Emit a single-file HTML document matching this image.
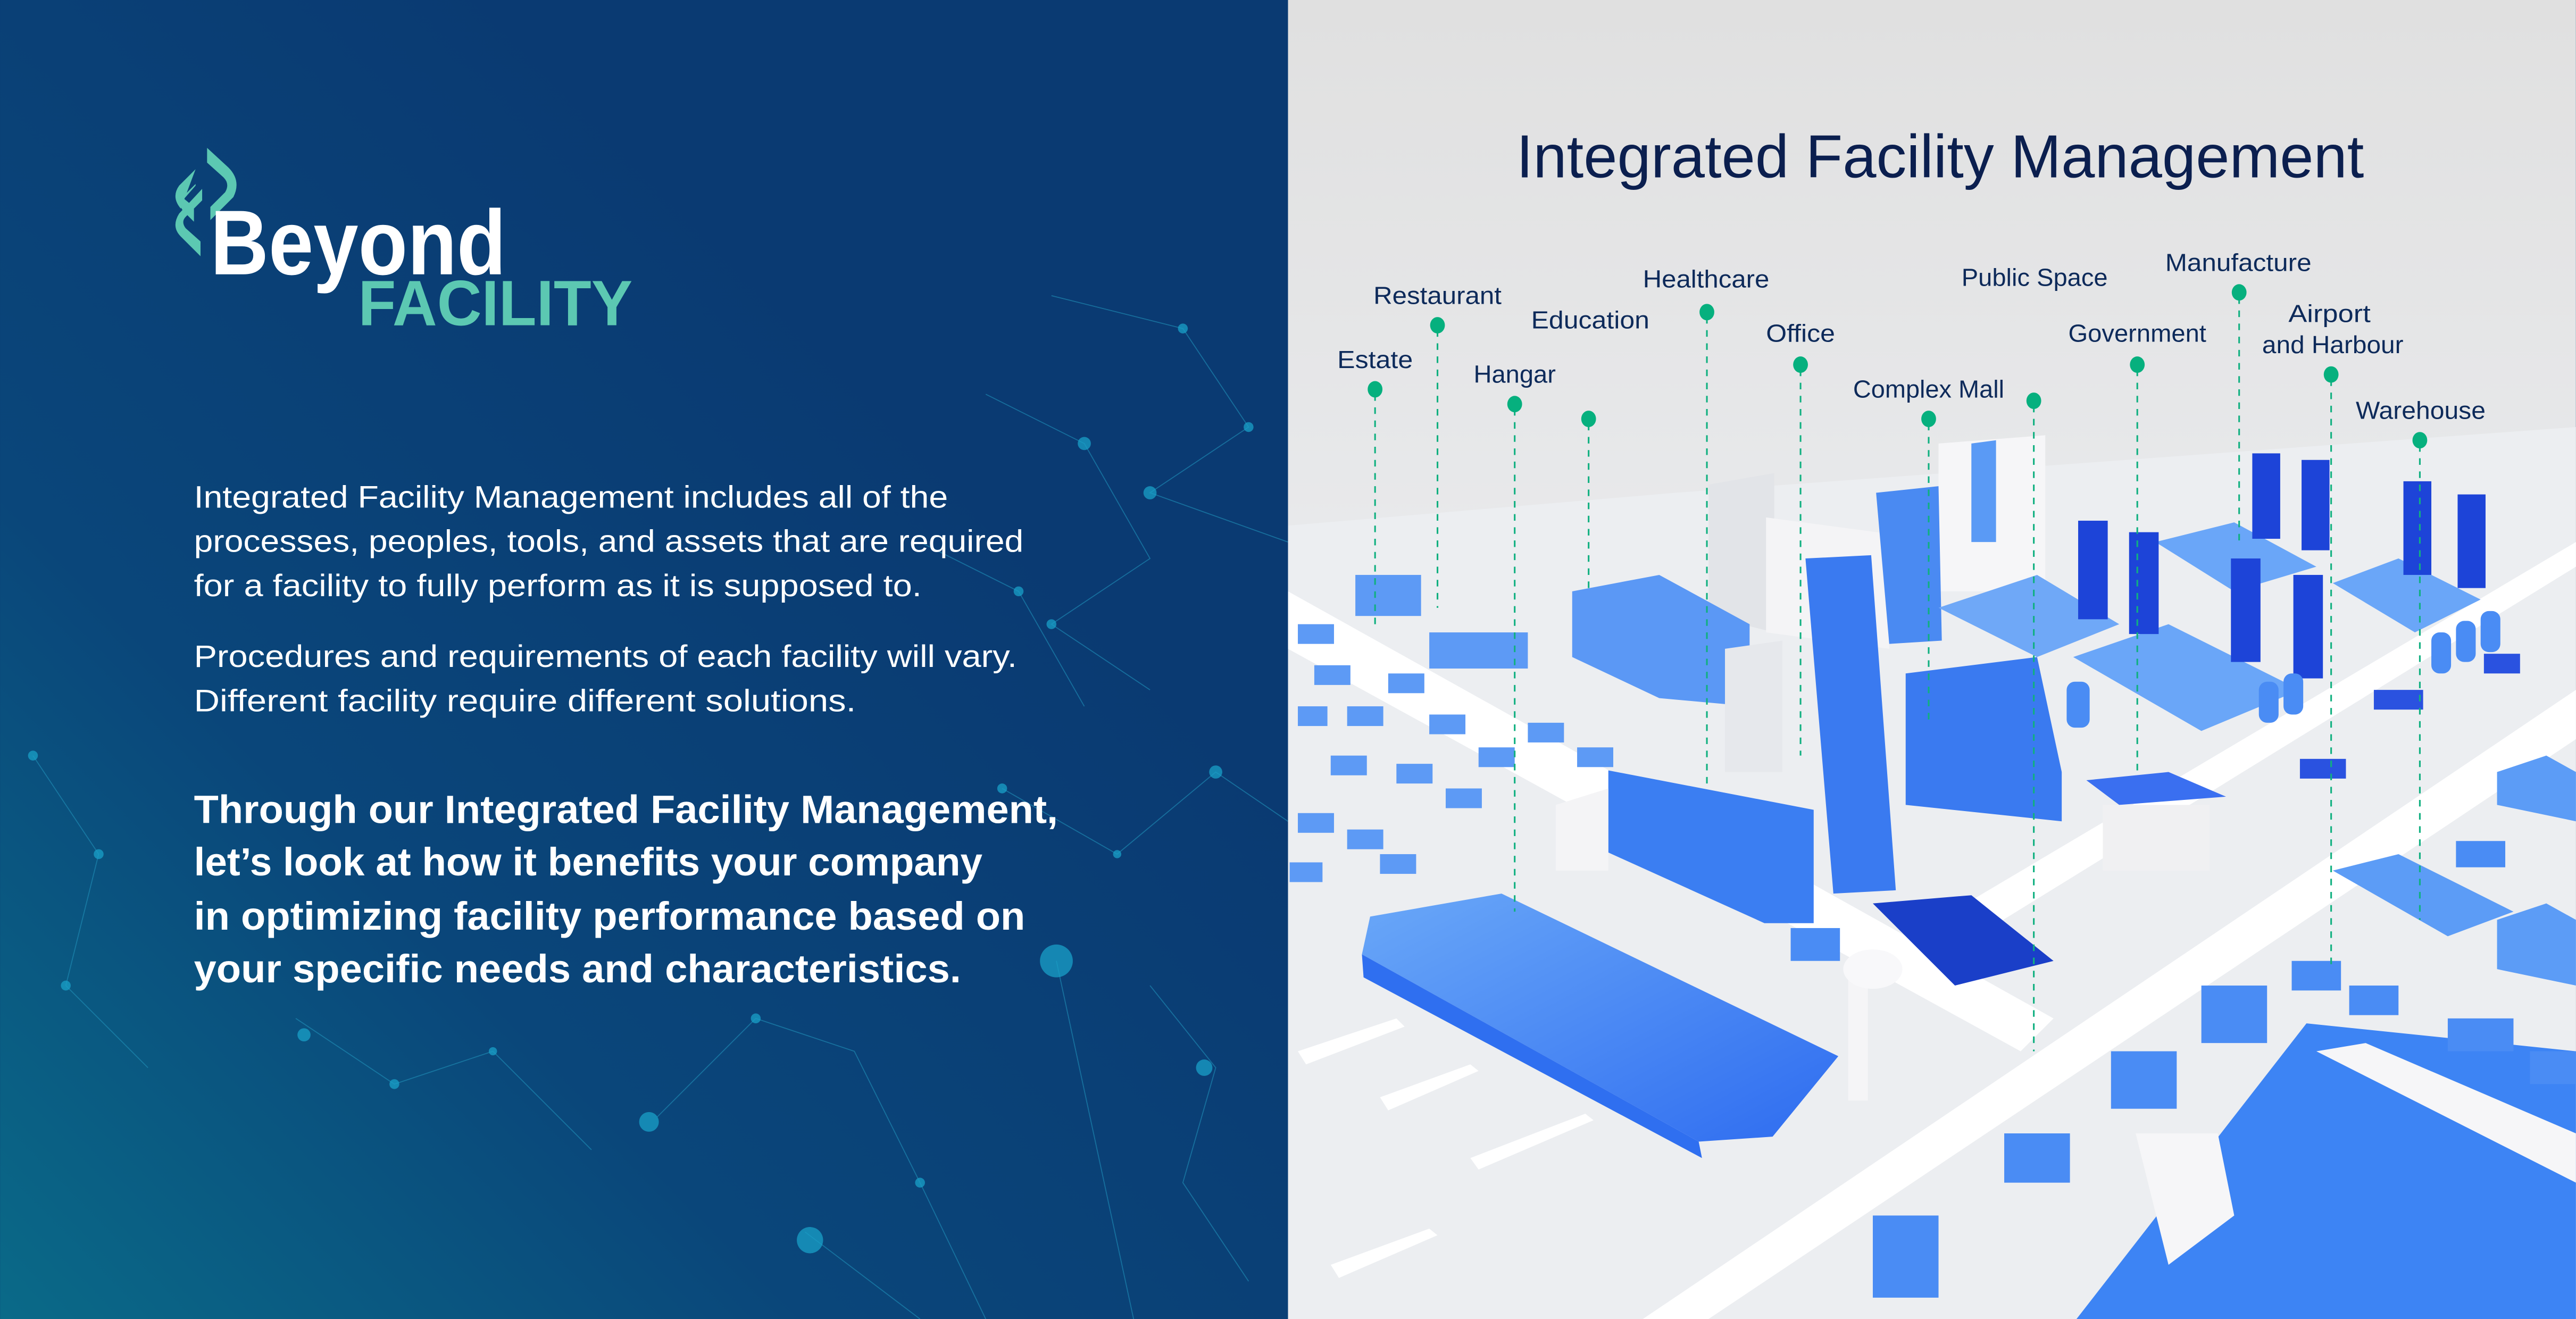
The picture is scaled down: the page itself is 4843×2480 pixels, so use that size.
<!DOCTYPE html>
<html><head><meta charset="utf-8"><style>
html,body{margin:0;padding:0;width:4843px;height:2480px;overflow:hidden;background:#0a3a72}
svg{display:block}
text{font-family:"Liberation Sans",sans-serif}
</style></head><body>
<svg width="4843" height="2480" viewBox="0 0 1568 803" xmlns="http://www.w3.org/2000/svg">
<defs>
<linearGradient id="lg" x1="0" y1="1" x2="0.7" y2="0.3">
<stop offset="0" stop-color="#0a6a88"/><stop offset="0.45" stop-color="#0a467a"/><stop offset="1" stop-color="#0a3a72"/></linearGradient>
<linearGradient id="rg" x1="0" y1="0" x2="0" y2="1">
<stop offset="0" stop-color="#e0e0e0"/><stop offset="0.4" stop-color="#e8e9eb"/><stop offset="1" stop-color="#eef0f3"/></linearGradient>
<linearGradient id="bl" x1="0" y1="0" x2="1" y2="1"><stop offset="0" stop-color="#6aa8f8"/><stop offset="1" stop-color="#2e6cf0"/></linearGradient>
</defs>
<g>
<rect x="0" y="0" width="784" height="803" fill="url(#lg)"/>
<g stroke="#1f8fb8" stroke-width="0.6" opacity="0.6" fill="none">
<polyline points="640,180 720,200 760,260 700,300 784,330"/>
<polyline points="600,240 660,270 700,340 640,380 700,420"/>
<polyline points="643,585 690,803"/>
<polyline points="400,680 460,620 520,640 560,720 600,803"/>
<polyline points="490,750 560,803"/>
<polyline points="610,480 680,520 740,470 784,500"/>
<polyline points="20,460 60,520 40,600 90,650"/>
<polyline points="180,620 240,660 300,640 360,700"/>
<polyline points="700,600 740,650 720,720 760,780"/>
<polyline points="560,330 620,360 660,430"/>
</g>
<g fill="#1aa0c8" opacity="0.75">
<circle cx="643" cy="585" r="10"/><circle cx="493" cy="755" r="8"/><circle cx="395" cy="683" r="6"/>
<circle cx="700" cy="300" r="4"/><circle cx="720" cy="200" r="3"/><circle cx="660" cy="270" r="4"/>
<circle cx="640" cy="380" r="3"/><circle cx="740" cy="470" r="4"/><circle cx="610" cy="480" r="3"/>
<circle cx="733" cy="650" r="5"/><circle cx="560" cy="720" r="3"/><circle cx="460" cy="620" r="3"/>
<circle cx="60" cy="520" r="3"/><circle cx="40" cy="600" r="3"/><circle cx="240" cy="660" r="3"/>
<circle cx="300" cy="640" r="2.5"/><circle cx="760" cy="260" r="3"/><circle cx="680" cy="520" r="2.5"/>
<circle cx="620" cy="360" r="3"/><circle cx="185" cy="630" r="4"/><circle cx="20" cy="460" r="3"/>
</g>
<g>
<g fill="#5cc8b2">
<path d="M126,90 L139,102 Q147,110 142,120 L128,134 L128,126 L137,117 Q140,112 136,108 L126,99 Z"/>
<path d="M119,103 L119,112 L111,120 Q108,125 112,129 L118,135 L118,126 L112,121 L119,113 L119,103 L109,113 Q104,120 110,127 Z"/>
<path d="M109,130 Q104,138 110,144 L122,156 L122,147 L113,139 Q110,135 113,132 L123,122 L123,115 Z"/>
</g>
<text x="128" y="167" font-size="56" font-weight="bold" fill="#ffffff" textLength="180" lengthAdjust="spacingAndGlyphs">Beyond</text>
<text x="218" y="198" font-size="39" font-weight="bold" fill="#5cc8b2" textLength="167" lengthAdjust="spacingAndGlyphs">FACILITY</text>
</g>
<g fill="#ffffff" font-size="19">
<text x="118" y="309" textLength="459" lengthAdjust="spacingAndGlyphs">Integrated Facility Management includes all of the</text>
<text x="118" y="336" textLength="505" lengthAdjust="spacingAndGlyphs">processes, peoples, tools, and assets that are required</text>
<text x="118" y="363" textLength="443" lengthAdjust="spacingAndGlyphs">for a facility to fully perform as it is supposed to.</text>
</g>
<g fill="#ffffff" font-size="19">
<text x="118" y="406" textLength="501" lengthAdjust="spacingAndGlyphs">Procedures and requirements of each facility will vary.</text>
<text x="118" y="433" textLength="403" lengthAdjust="spacingAndGlyphs">Different facility require different solutions.</text>
</g>
<g fill="#ffffff" font-size="24" font-weight="bold">
<text x="118" y="501" textLength="526" lengthAdjust="spacingAndGlyphs">Through our Integrated Facility Management,</text>
<text x="118" y="533" textLength="480" lengthAdjust="spacingAndGlyphs">let’s look at how it benefits your company</text>
<text x="118" y="566" textLength="506" lengthAdjust="spacingAndGlyphs">in optimizing facility performance based on</text>
<text x="118" y="598" textLength="467" lengthAdjust="spacingAndGlyphs">your specific needs and characteristics.</text>
</g>
</g>
<g>
<rect x="784" y="0" width="784" height="803" fill="url(#rg)"/>
<text x="923" y="108" font-size="37" fill="#0b1f4f" textLength="516" lengthAdjust="spacingAndGlyphs">Integrated Facility Management</text>
<g>
<polygon points="784,320 1020,300 1568,260 1568,803 784,803" fill="#eceef1"/>
<polygon points="1000,803 1568,420 1568,450 1040,803" fill="#ffffff"/>
<polygon points="784,360 1250,620 1230,640 784,395" fill="#ffffff"/>
<polygon points="1180,560 1568,330 1568,345 1195,575" fill="#ffffff"/>
<polygon points="1404,623 1568,640 1568,803 1264,803" fill="#3d84f4"/>
<polygon points="834,558 914,544 1119,643 1079,692 1034,695 829,581" fill="url(#bl)"/>
<polygon points="829,581 1034,695 1036,705 830,595" fill="#2f6ff0"/>
<polygon points="1040,295 1080,288 1080,385 1040,375" fill="#e2e4e8"/>
<polygon points="1075,315 1150,325 1150,395 1075,385" fill="#f4f4f6"/>
<polygon points="1180,270 1245,265 1245,360 1180,360" fill="#f6f6f8"/>
<polygon points="1142,300 1180,296 1182,390 1150,392" fill="#4a8af2"/>
<polygon points="1200,270 1215,268 1215,330 1200,330" fill="#5a9af5"/>
<polygon points="957,360 1010,350 1065,380 1065,430 1010,425 957,400" fill="#5b98f5"/>
<polygon points="1099,340 1139,338 1154,542 1116,544" fill="#3a7af0"/>
<polygon points="1050,395 1085,390 1085,470 1050,470" fill="#e6e8ec"/>
<polygon points="979,469 1104,493 1104,562 1074,562 979,519" fill="#3b7ef2"/>
<polygon points="947,490 979,480 979,530 947,530" fill="#f4f4f6"/>
<polygon points="1160,410 1240,400 1255,470 1255,500 1160,490" fill="#3a7af0"/>
<polygon points="1180,370 1240,350 1290,380 1240,400" fill="#6fa8f7"/>
<polygon points="1262,400 1320,380 1400,420 1340,445" fill="#6aa6f8"/>
<polygon points="1312,330 1360,318 1410,345 1360,360" fill="#6aa6f8"/>
<polygon points="1420,355 1460,340 1510,365 1470,385" fill="#6aa6f8"/>
<polygon points="1270,475 1320,470 1355,485 1290,490" fill="#3a6ff0"/>
<polygon points="1280,490 1345,490 1345,530 1280,530" fill="#f0f0f2"/>
<polygon points="1140,550 1200,545 1250,585 1190,600" fill="#1a3fc8"/>
<polygon points="1420,530 1460,520 1530,555 1490,570" fill="#5c9cf6"/>
<polygon points="1520,470 1550,460 1568,470 1568,500 1520,490" fill="#5c9cf6"/>
<polygon points="1520,560 1550,550 1568,560 1568,600 1520,590" fill="#5c9cf6"/>
<g fill="#1d44d8">
<rect x="1265" y="317" width="18" height="60"/><rect x="1296" y="324" width="18" height="62"/>
<rect x="1371" y="276" width="17" height="52"/><rect x="1401" y="280" width="17" height="55"/>
<rect x="1358" y="340" width="18" height="63"/><rect x="1396" y="350" width="18" height="63"/>
<rect x="1463" y="293" width="17" height="57"/><rect x="1496" y="301" width="17" height="57"/>
</g>
<g fill="#4a8cf4">
<rect x="1375" y="415" width="12" height="25" rx="5"/><rect x="1390" y="410" width="12" height="25" rx="5"/>
<rect x="1480" y="385" width="12" height="25" rx="5"/><rect x="1495" y="378" width="12" height="25" rx="5"/>
<rect x="1510" y="372" width="12" height="25" rx="5"/><rect x="1258" y="415" width="14" height="28" rx="5"/>
</g>
<g fill="#2a52e0">
<rect x="1445" y="420" width="30" height="12"/><rect x="1400" y="462" width="28" height="12"/><rect x="1512" y="398" width="22" height="12"/>
</g>
<g fill="#4a8cf4">
<rect x="1220" y="690" width="40" height="30"/><rect x="1285" y="640" width="40" height="35"/>
<rect x="1340" y="600" width="40" height="35"/><rect x="1140" y="740" width="40" height="50"/>
<rect x="1395" y="585" width="30" height="18"/><rect x="1430" y="600" width="30" height="18"/>
<rect x="1490" y="620" width="40" height="20"/><rect x="1540" y="640" width="28" height="20"/>
<rect x="1090" y="565" width="30" height="20"/><rect x="1495" y="512" width="30" height="16"/>
</g>
<g fill="#5d9af5">
<rect x="790" y="380" width="22" height="12"/><rect x="800" y="405" width="22" height="12"/>
<rect x="820" y="430" width="22" height="12"/><rect x="845" y="410" width="22" height="12"/>
<rect x="870" y="435" width="22" height="12"/><rect x="850" y="465" width="22" height="12"/>
<rect x="790" y="495" width="22" height="12"/><rect x="820" y="505" width="22" height="12"/>
<rect x="900" y="455" width="22" height="12"/><rect x="930" y="440" width="22" height="12"/>
<rect x="880" y="480" width="22" height="12"/><rect x="825" y="350" width="40" height="25"/>
<rect x="790" y="430" width="18" height="12"/><rect x="810" y="460" width="22" height="12"/>
<rect x="785" y="525" width="20" height="12"/><rect x="840" y="520" width="22" height="12"/>
<rect x="960" y="455" width="22" height="12"/><rect x="870" y="385" width="60" height="22"/>
</g>
<g fill="#ffffff">
<polygon points="790,640 850,620 855,625 795,648"/><polygon points="840,668 895,648 900,652 845,676"/>
<polygon points="895,705 965,678 970,682 900,712"/><polygon points="810,770 870,748 875,752 815,778"/>
</g>
<rect x="1125" y="590" width="12" height="80" fill="#f5f5f7"/>
<ellipse cx="1140" cy="590" rx="18" ry="12" fill="#f8f8fa"/>
<polygon points="1410,640 1440,635 1568,690 1568,720" fill="#f6f6f8"/>
<polygon points="1300,690 1350,690 1360,740 1320,770" fill="#f6f6f8"/>
</g>
<g font-size="15" fill="#0d2a5a">
<g stroke="#10b080" stroke-width="1" stroke-dasharray="4,4">
<line x1="837" y1="240" x2="837" y2="380"/><line x1="875" y1="201" x2="875" y2="370"/>
<line x1="922" y1="249" x2="922" y2="555"/><line x1="967" y1="258" x2="967" y2="360"/>
<line x1="1039" y1="193" x2="1039" y2="480"/><line x1="1096" y1="225" x2="1096" y2="460"/>
<line x1="1174" y1="258" x2="1174" y2="440"/><line x1="1238" y1="247" x2="1238" y2="640"/>
<line x1="1301" y1="225" x2="1301" y2="470"/><line x1="1363" y1="181" x2="1363" y2="330"/>
<line x1="1419" y1="231" x2="1419" y2="590"/><line x1="1473" y1="271" x2="1473" y2="560"/>
</g>
<g fill="#06b07e">
<ellipse cx="837" cy="237" rx="4.5" ry="5"/><ellipse cx="875" cy="198" rx="4.5" ry="5"/>
<ellipse cx="922" cy="246" rx="4.5" ry="5"/><ellipse cx="967" cy="255" rx="4.5" ry="5"/>
<ellipse cx="1039" cy="190" rx="4.5" ry="5"/><ellipse cx="1096" cy="222" rx="4.5" ry="5"/>
<ellipse cx="1174" cy="255" rx="4.5" ry="5"/><ellipse cx="1238" cy="244" rx="4.5" ry="5"/>
<ellipse cx="1301" cy="222" rx="4.5" ry="5"/><ellipse cx="1363" cy="178" rx="4.5" ry="5"/>
<ellipse cx="1419" cy="228" rx="4.5" ry="5"/><ellipse cx="1473" cy="268" rx="4.5" ry="5"/>
</g>
<text x="814" y="224" textLength="46" lengthAdjust="spacingAndGlyphs">Estate</text>
<text x="836" y="185" textLength="78" lengthAdjust="spacingAndGlyphs">Restaurant</text>
<text x="932" y="200" textLength="72" lengthAdjust="spacingAndGlyphs">Education</text>
<text x="1000" y="175" textLength="77" lengthAdjust="spacingAndGlyphs">Healthcare</text>
<text x="897" y="233" textLength="50" lengthAdjust="spacingAndGlyphs">Hangar</text>
<text x="1075" y="208" textLength="42" lengthAdjust="spacingAndGlyphs">Office</text>
<text x="1128" y="242" textLength="92" lengthAdjust="spacingAndGlyphs">Complex Mall</text>
<text x="1194" y="174" textLength="89" lengthAdjust="spacingAndGlyphs">Public Space</text>
<text x="1259" y="208" textLength="84" lengthAdjust="spacingAndGlyphs">Government</text>
<text x="1318" y="165" textLength="89" lengthAdjust="spacingAndGlyphs">Manufacture</text>
<text x="1393" y="196" textLength="50" lengthAdjust="spacingAndGlyphs">Airport</text>
<text x="1377" y="215" textLength="86" lengthAdjust="spacingAndGlyphs">and Harbour</text>
<text x="1434" y="255" textLength="79" lengthAdjust="spacingAndGlyphs">Warehouse</text>
</g>
</g>
</svg>
</body></html>
